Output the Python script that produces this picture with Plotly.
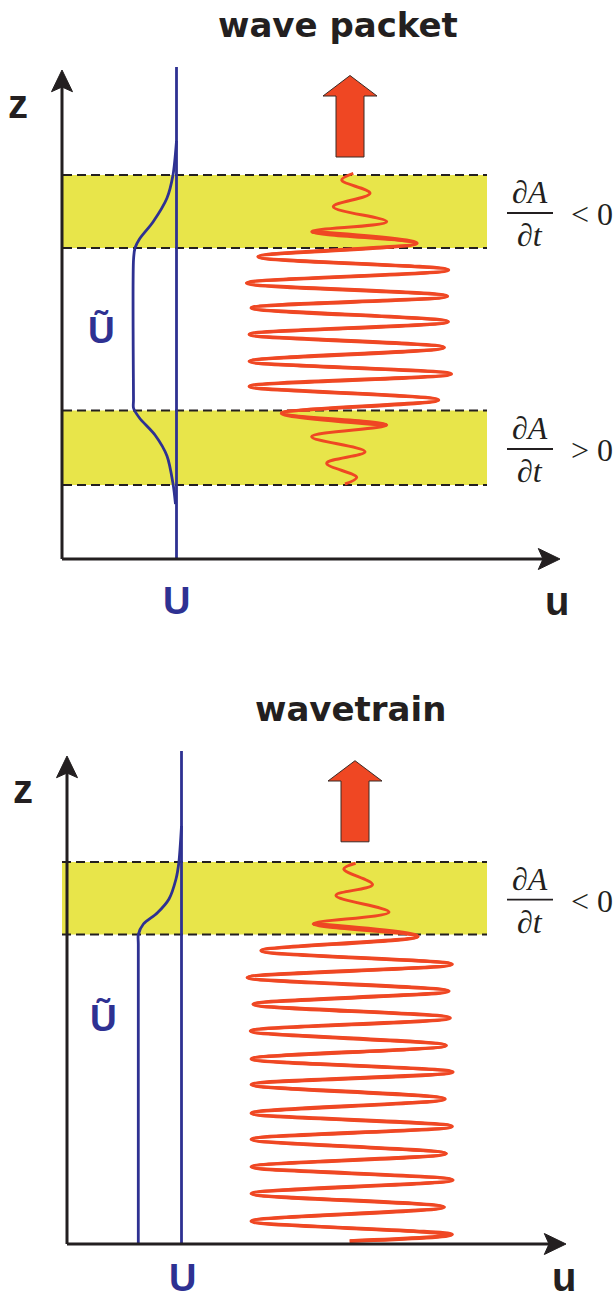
import plotly.graph_objects as go

W, H = 615, 1302

# ---------------- data (u, z in schematic units) ----------------
# Panel 1: wave packet
wp_U_mean = 114.5
wp_U_top = 492
wp_Ut_u = [114.5, 111, 105, 91, 77.5, 73, 71.5, 71.5, 71.5, 77.5, 93, 105, 111, 113.5]
wp_Ut_z = [418, 384, 361, 337, 320, 311, 299, 159, 151, 141, 124, 103, 75.5, 55]
wp_wave_u = [291.3, 279.7, 308, 271.3, 324.7, 249.7, 354.7, 196.3, 386.3, 184.8, 385.2, 189.5, 386,
             187.5, 382, 187.5, 389.1, 187.5, 376.3, 219.7, 324.7, 249.7, 303, 264.7, 294.7, 283]
wp_wave_z = [385.7, 379, 365.7, 352.3, 337.3, 327.3, 315.7, 302.3, 289, 275.9, 262.8, 251.1, 237.3,
             224.6, 211.5, 197.7, 185, 172.6, 159, 145.7, 134, 122.3, 107.3, 95.7, 81.7, 75]
wp_bands = [(311, 384), (74, 148.5)]
wp_band_u = (1, 425)
wp_arrow = dict(u=288, tip=483.5, neck=463, base=402)
wp_axis_tip = dict(u=498, z=489)

# Panel 2: wavetrain
wt_U_mean = 114.5
wt_U_top = 493
wt_Ut_u = [71.3, 71.3, 71.3, 76.4, 90.2, 102, 109, 111.8, 114.5]
wt_Ut_z = [0, 300, 309.4, 320, 331, 345, 365, 381, 418]
wt_wave_u = [288.6, 276.8, 305.5, 269, 322, 246.2, 350.7, 194.3, 384.9, 180.5, 381.7, 186.4, 382.9,
             183.7, 379, 184.5, 385.7, 184.5, 377.8, 184.5, 384.9, 184.5, 379, 184.5, 385.7, 184.5,
             377, 184.5, 384.9, 282.7]
wt_wave_z = [380.8, 375, 359.4, 348.6, 331.9, 320.1, 307.6, 293.3, 279.7, 266.5, 252.9, 239.7, 226.1,
             212.9, 198.6, 185.1, 171.9, 159.4, 145.1, 130.8, 117.6, 104.7, 90.4, 77.2, 64, 50.4,
             36.9, 22.9, 9.4, 2.9]
wt_bands = [(309.4, 382)]
wt_band_u = (-5, 420)
wt_arrow = dict(u=288, tip=483.3, neck=463, base=402.2)
wt_axis_tip = dict(u=499, z=488)

# ---------------- styles ----------------
BLUE = "#2e3192"
RED = "#ef4723"
YELLOW = "#e8e54a"
INK = "#231f20"

fig = go.Figure()
shapes = []
annotations = []


def panel(xa, ya, U_mean, U_top, Ut_u, Ut_z, wave_u, wave_z, bands, band_u, arrow, tip, thick):
    xr, yr = xa, ya
    # yellow bands + dashed edges
    for z0, z1 in bands:
        shapes.append(dict(type="rect", xref=xr, yref=yr, x0=band_u[0], x1=band_u[1], y0=z0, y1=z1,
                           fillcolor=YELLOW, line=dict(width=0), layer="below"))
        for zz in (z0, z1):
            shapes.append(dict(type="line", xref=xr, yref=yr, x0=band_u[0], x1=band_u[1], y0=zz, y1=zz,
                               line=dict(color=INK, width=2, dash="9px,5px"), layer="below"))
    # axes
    shapes.append(dict(type="line", xref=xr, yref=yr, x0=0, x1=0, y0=0, y1=tip["z"] - 12,
                       line=dict(color=INK, width=3)))
    shapes.append(dict(type="line", xref=xr, yref=yr, x0=0, x1=tip["u"] - 12, y0=0, y1=0,
                       line=dict(color=INK, width=3)))
    tz, tu = tip["z"], tip["u"]
    shapes.append(dict(type="path", xref=xr, yref=yr,
                       path=f"M 0,{tz} L -10.5,{tz-21.7} L 0,{tz-17} L 10.5,{tz-21.7} Z",
                       fillcolor=INK, line=dict(color=INK, width=1)))
    shapes.append(dict(type="path", xref=xr, yref=yr,
                       path=f"M {tu},0 L {tu-21.7},10.5 L {tu-17},0 L {tu-21.7},-10.5 Z",
                       fillcolor=INK, line=dict(color=INK, width=1)))
    # block arrow
    a = arrow
    hw, sw = 27, 14
    shapes.append(dict(type="path", xref=xr, yref=yr,
                       path=(f"M {a['u']},{a['tip']} L {a['u']+hw},{a['neck']} L {a['u']+sw},{a['neck']} "
                             f"L {a['u']+sw},{a['base']} L {a['u']-sw},{a['base']} L {a['u']-sw},{a['neck']} "
                             f"L {a['u']-hw},{a['neck']} Z"),
                       fillcolor=RED, line=dict(color="#3a2a25", width=1)))
    # mean flow U
    fig.add_trace(go.Scatter(x=[U_mean, U_mean], y=[0, U_top], mode="lines", xaxis=xa, yaxis=ya,
                             line=dict(color=BLUE, width=2.8), hoverinfo="skip", showlegend=False))
    # U tilde
    fig.add_trace(go.Scatter(x=Ut_u, y=Ut_z, mode="lines", xaxis=xa, yaxis=ya,
                             line=dict(color=BLUE, width=2.8, shape="spline", smoothing=0.8),
                             hoverinfo="skip", showlegend=False))
    # wave (thin full curve + thicker core)
    fig.add_trace(go.Scatter(x=wave_u, y=wave_z, mode="lines", xaxis=xa, yaxis=ya,
                             line=dict(color=RED, width=3.0, shape="spline", smoothing=1.0),
                             hoverinfo="skip", showlegend=False))
    i0, i1 = thick
    fig.add_trace(go.Scatter(x=wave_u[i0:i1], y=wave_z[i0:i1], mode="lines", xaxis=xa, yaxis=ya,
                             line=dict(color=RED, width=3.9, shape="spline", smoothing=1.0),
                             hoverinfo="skip", showlegend=False))


panel("x", "y", wp_U_mean, wp_U_top, wp_Ut_u, wp_Ut_z, wp_wave_u, wp_wave_z, wp_bands, wp_band_u,
      wp_arrow, wp_axis_tip, (5, 21))
panel("x2", "y2", wt_U_mean, wt_U_top, wt_Ut_u, wt_Ut_z, wt_wave_u, wt_wave_z, wt_bands, wt_band_u,
      wt_arrow, wt_axis_tip, (5, 30))


def P(px, py):
    return px / W, 1 - py / H


SANS = "Liberation Sans, Arial, sans-serif"
WIDE = "DejaVu Sans, Verdana, sans-serif"
SERIF = "Liberation Serif, Times New Roman, serif"


def text(t, px, py, size, color=INK, family=SANS, yanchor="middle"):
    x, y = P(px, py)
    annotations.append(dict(text=t, x=x, y=y, xref="paper", yref="paper", showarrow=False,
                            xanchor="center", yanchor=yanchor,
                            font=dict(size=size, color=color, family=family)))


# titles and axis labels
text("<b>wave packet</b>", 337.5, 25, 34, family=WIDE)
text("<b>wavetrain</b>", 350, 709, 34, family=WIDE)
for (zx, zy) in [(17.5, 104), (22.5, 789)]:
    text("<b>z</b>", zx, zy, 40)
text("<b>U</b>", 176, 601, 38, BLUE)
text("<b>u</b>", 557, 601, 40)
text("<b>U</b>", 182.5, 1301, 38, BLUE, yanchor="bottom")
text("<b>u</b>", 564, 1301, 40, yanchor="bottom")
for (ux, uy) in [(101, 330), (103, 1018)]:
    text("<b>Ũ</b>", ux, uy, 37, BLUE)


# fraction labels dA/dt
def frac(py_bar, sign):
    text("<i>∂A</i>", 530, py_bar - 21, 32, INK, SERIF)
    text("<i>∂t</i>", 530, py_bar + 22, 32, INK, SERIF)
    text(sign + " 0", 592, py_bar + 1, 32, INK, SERIF)
    x0, y0 = P(507, py_bar)
    x1, _ = P(553, py_bar)
    shapes.append(dict(type="line", xref="paper", yref="paper", x0=x0, x1=x1, y0=y0, y1=y0,
                       line=dict(color=INK, width=1.8)))


frac(213, "&lt;")
frac(449, "&gt;")
frac(899.6, "&lt;")

ax_common = dict(visible=False, fixedrange=True, showgrid=False, zeroline=False)
fig.update_layout(
    width=W, height=H, autosize=False,
    margin=dict(l=0, r=0, t=0, b=0, pad=0),
    paper_bgcolor="white", plot_bgcolor="white",
    xaxis=dict(domain=[0, 1], range=[-62, 553], anchor="y", **ax_common),
    yaxis=dict(domain=[0.5, 1], range=[-92, 559], anchor="x", **ax_common),
    xaxis2=dict(domain=[0, 1], range=[-67, 548], anchor="y2", **ax_common),
    yaxis2=dict(domain=[0, 0.5], range=[-58, 593], anchor="x2", **ax_common),
    shapes=shapes,
    annotations=annotations,
    showlegend=False,
)

fig.write_html("out.html")
